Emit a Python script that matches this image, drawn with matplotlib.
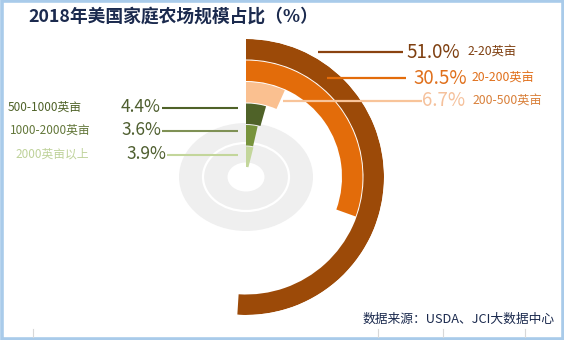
import numpy as np
import matplotlib
matplotlib.use("Agg")
import matplotlib.pyplot as plt
from matplotlib.patches import Ellipse, Rectangle

plt.rcParams['font.family'] = ['Noto Sans CJK SC', 'DejaVu Sans']

# Farm size shares, outermost ring first
categories = ["2-20英亩", "20-200英亩", "200-500英亩", "500-1000英亩", "1000-2000英亩", "2000英亩以上"]
shares = [51.0, 30.5, 6.7, 4.4, 3.6, 3.9]
value_labels = ["51.0%", "30.5%", "6.7%", "4.4%", "3.6%", "3.9%"]

ring_colors = ["#9C4A08", "#E36C0A", "#FAC090", "#4F6228", "#77933C", "#C3D69B"]
line_colors = ["#8A4210", "#E36C0A", "#F8C49A", "#4F6228", "#7F9155", "#C3D69B"]
value_colors = ["#7E3F10", "#E0701C", "#F5C19C", "#4F5F30", "#4F5F30", "#4F5F30"]
cat_colors = ["#7E3F10", "#E0701C", "#D9803A", "#4F6228", "#63773A", "#BFD29A"]

W, H = 564, 340
cx, cy = 246, 177          # ring centre (pixels)
r_outer = 138
ring_w = 20.5
gap = 1.0

fig = plt.figure(figsize=(W / 100, H / 100), dpi=100)
fig.patch.set_facecolor("white")

# background layer: decorative grey disc
bg = fig.add_axes([0, 0, 1, 1], zorder=0)
bg.set_xlim(0, W)
bg.set_ylim(H, 0)
bg.axis("off")
bg.add_patch(Ellipse((cx, cy), 134, 108, facecolor="#EFEFEF", edgecolor="none"))
bg.add_patch(Ellipse((cx, cy), 86, 68, facecolor="none", edgecolor="white", lw=1.6))
bg.add_patch(Ellipse((cx, cy), 37, 29, facecolor="white", edgecolor="none"))

# radial bars on a polar axes, clockwise from 12 o'clock
pax = fig.add_axes([(cx - r_outer) / W, (H - cy - r_outer) / H,
                    2 * r_outer / W, 2 * r_outer / H], projection="polar", zorder=1)
pax.set_theta_zero_location("N")
pax.set_theta_direction(-1)
pax.set_ylim(0, r_outer)
pax.set_facecolor("none")
pax.axis("off")

for i, (val, col) in enumerate(zip(shares, ring_colors)):
    top = r_outer - i * (ring_w + gap)
    bottom = top - ring_w
    pax.bar(0, ring_w, width=np.deg2rad(val / 100 * 360), bottom=bottom,
            align="edge", color=col, edgecolor="none")

# overlay layer: leader lines and labels
ov = fig.add_axes([0, 0, 1, 1], zorder=2)
ov.set_xlim(0, W)
ov.set_ylim(H, 0)
ov.axis("off")
ov.patch.set_alpha(0)

# right-hand labels
right = [
    (52, 318, 403, 406, 468),
    (78, 327, 406, 413, 472),
    (101, 283, 422, 422, 473),
]
for i, (y, x0, x1, xv, xc) in enumerate(right):
    ov.plot([x0, x1], [y, y], color=line_colors[i], lw=1.6, solid_capstyle="butt")
    ov.text(xv, y, value_labels[i], color=value_colors[i], fontsize=13.5,
            va="center", ha="left")
    ov.text(xc, y + 0.5, categories[i], color=cat_colors[i], fontsize=8.8,
            va="center", ha="left")

# left-hand labels
left = [
    (107, 121, 162, 8),
    (130, 121, 162, 10),
    (154, 126, 167, 15),
]
for j, (y, xv, x0, xc) in enumerate(left):
    i = j + 3
    ov.plot([x0, 238], [y + 1, y + 1], color=line_colors[i], lw=1.5, solid_capstyle="butt")
    ov.text(xv, y, value_labels[i], color=value_colors[i], fontsize=12.5,
            va="center", ha="left")
    ov.text(xc, y + 0.5, categories[i], color=cat_colors[i], fontsize=8.5,
            va="center", ha="left")

# title and source
ov.text(28, 17, "2018年美国家庭农场规模占比（%）", color="#1B2A4E", fontsize=12.8,
        fontweight="bold", va="center", ha="left")
ov.text(555, 319, "数据来源：USDA、JCI大数据中心", color="#1B2A4E", fontsize=9.2,
        va="center", ha="right")

# faint tick marks along the bottom edge
for xt in [33, 378, 443, 525]:
    ov.plot([xt, xt], [329, 337], color="#D8D8D8", lw=0.8)

# light blue frame
ov.add_patch(Rectangle((1.5, 1.0), W - 3.0, H - 2.5, facecolor="none",
                       edgecolor="#A9CBEA", lw=2.6))

fig.savefig("out.png", dpi=100, facecolor="white")
